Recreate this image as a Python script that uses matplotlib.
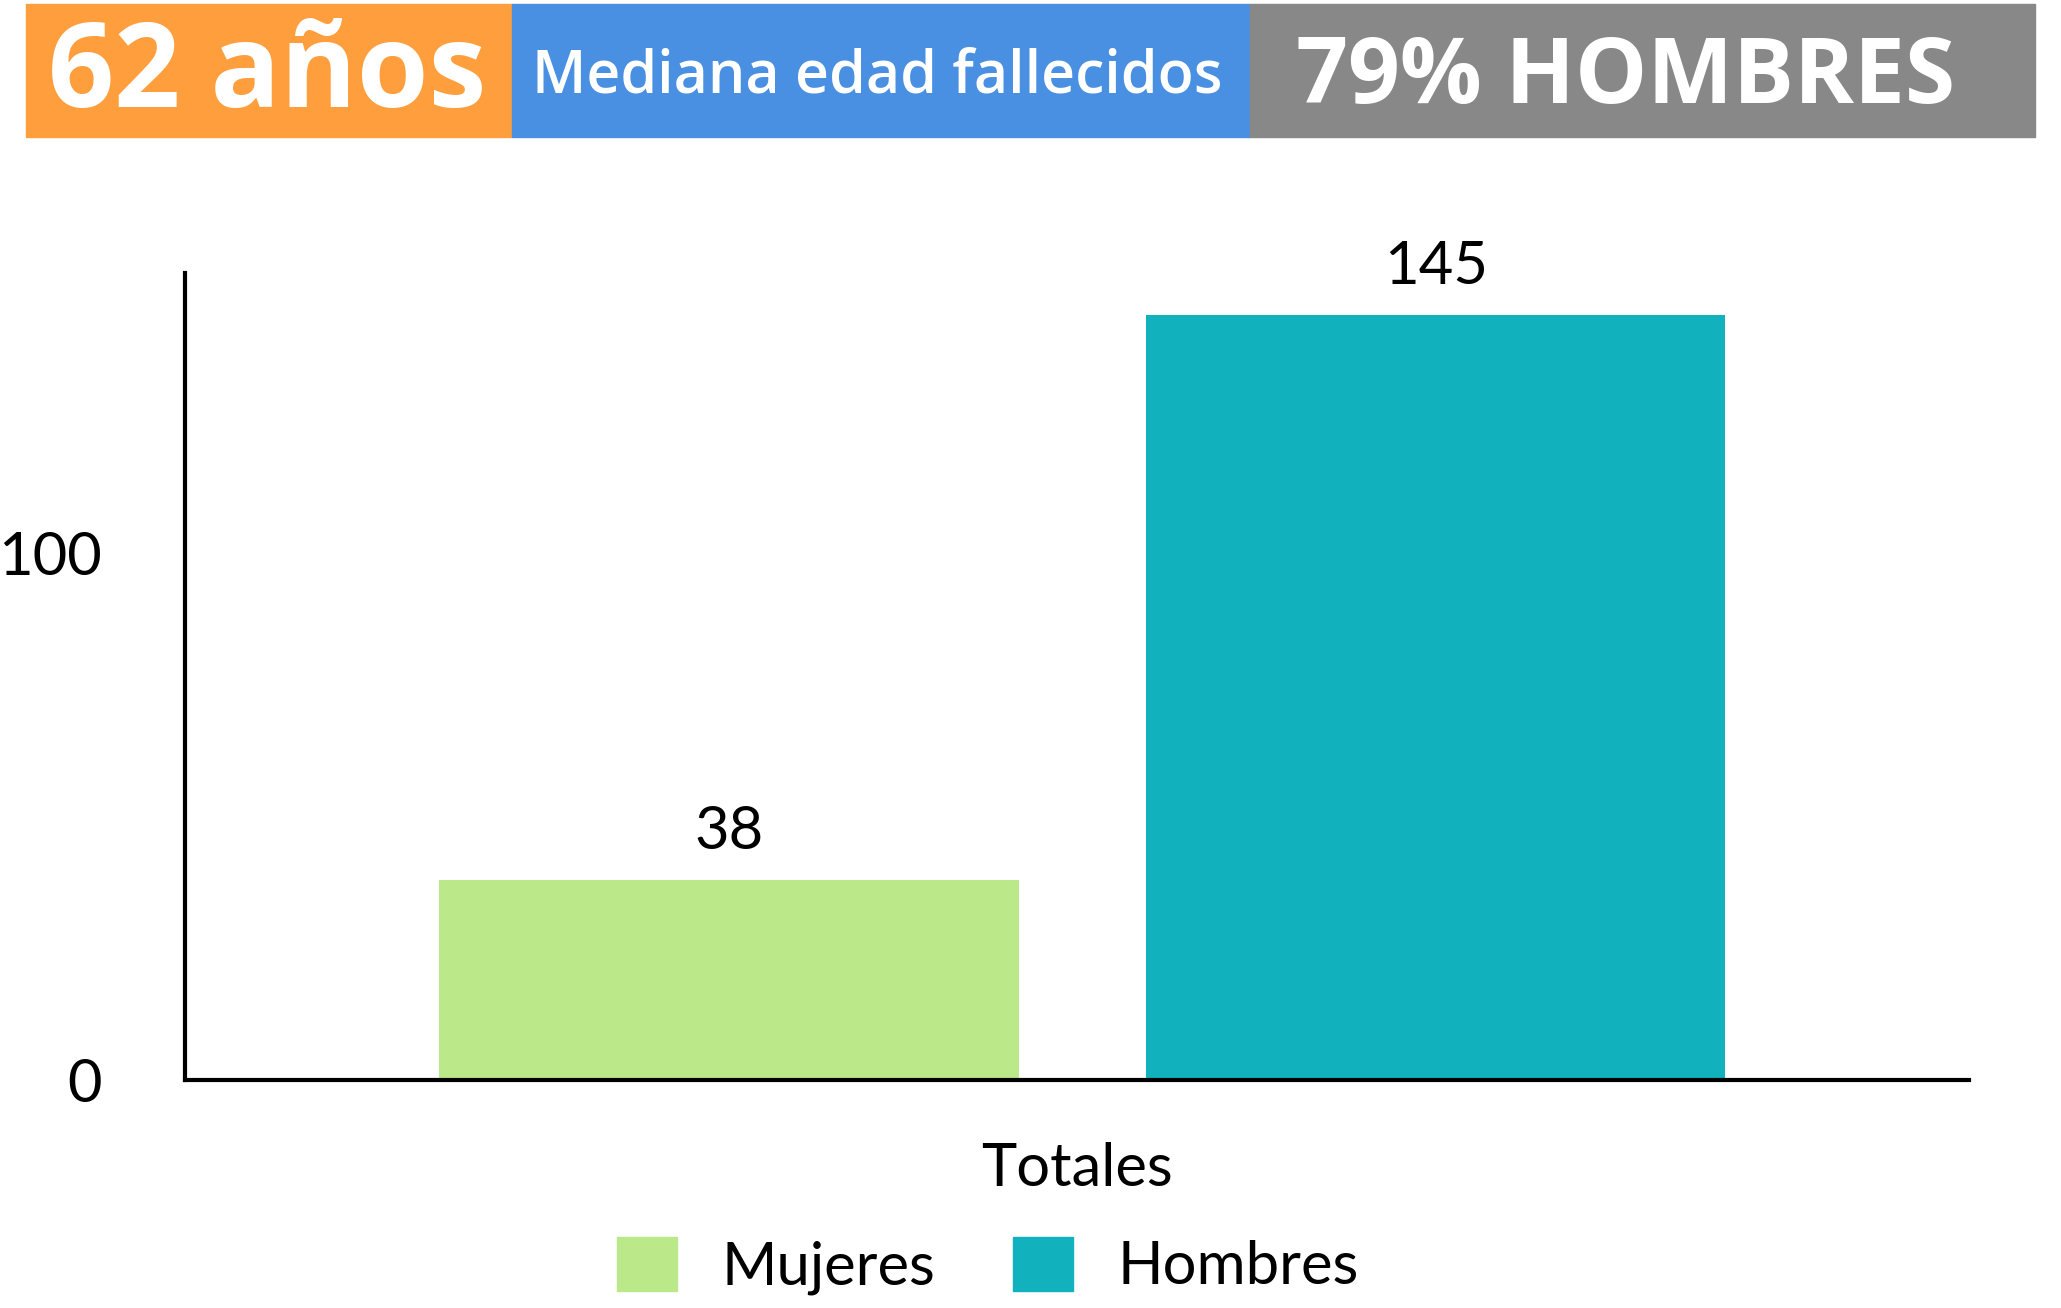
import matplotlib
matplotlib.use("Agg")
import matplotlib.pyplot as plt
from matplotlib.patches import Rectangle, Patch

# data
categories = ["Totales"]
series_names = ["Mujeres", "Hombres"]
series_values = [38, 145]
series_colors = ["#BBE98A", "#11B2BD"]
yticks = [0, 100]

header_texts = ["62 años", "Mediana edad fallecidos", "79% HOMBRES"]
header_colors = ["#FF9E3D", "#4A90E2", "#888888"]

W, H = 2061, 1308
fig = plt.figure(figsize=(W / 100, H / 100), dpi=100)
plt.rcParams["font.family"] = ["Lato", "DejaVu Sans"]

# header bands (pixel bounds from the reference)
bands = [(26, 512), (512, 1250), (1250, 2035)]
top, bot = 4, 137
sizes = [83.5, 42.5, 65.5]
weights = ["bold", "semibold", "bold"]
text_x = [48, 532, 1296]
text_y = [62, 70, 68]
for (x0, x1), col, txt, fs, wt, tx, ty in zip(bands, header_colors, header_texts, sizes, weights, text_x, text_y):
    fig.patches.append(Rectangle((x0 / W, 1 - bot / H), (x1 - x0) / W, (bot - top) / H,
                                 transform=fig.transFigure, color=col, zorder=0))
    fig.text(tx / W, 1 - ty / H, txt, color="white", fontsize=fs,
             fontweight=wt, family=["Open Sans", "DejaVu Sans"], ha="left", va="center_baseline")

ax = fig.add_axes([185 / W, 1 - 1080 / H, (1969 - 185) / W, (1080 - 273) / H])
width = 0.325
offsets = [-0.195, 0.201]
for name, val, col, off in zip(series_names, series_values, series_colors, offsets):
    bars = ax.bar(0 + off, val, width=width, color=col, label=name)
    ax.bar_label(bars, labels=[str(val)], padding=15, fontsize=43)

ax.set_xlim(-0.5, 0.5)
ax.set_ylim(0, 153)
ax.set_xticks([0])
ax.set_xticklabels(categories, fontsize=43)
ax.set_yticks(yticks)
ax.set_yticklabels([str(t) for t in yticks], fontsize=43)
ax.tick_params(length=0)
ax.tick_params(axis="y", pad=60)
ax.tick_params(axis="x", pad=45)
for s in ["top", "right"]:
    ax.spines[s].set_visible(False)
for s in ["left", "bottom"]:
    ax.spines[s].set_linewidth(3)

handles = [Patch(color=c, label=n) for n, c in zip(series_names, series_colors)]
fig.legend(handles=handles, loc="center", bbox_to_anchor=(988 / W, 1 - 1266 / H),
           ncol=2, frameon=False, fontsize=43, handlelength=1.0, handleheight=1.0,
           handletextpad=0.75, columnspacing=1.3)

fig.savefig("out.png", dpi=100, facecolor="white")
